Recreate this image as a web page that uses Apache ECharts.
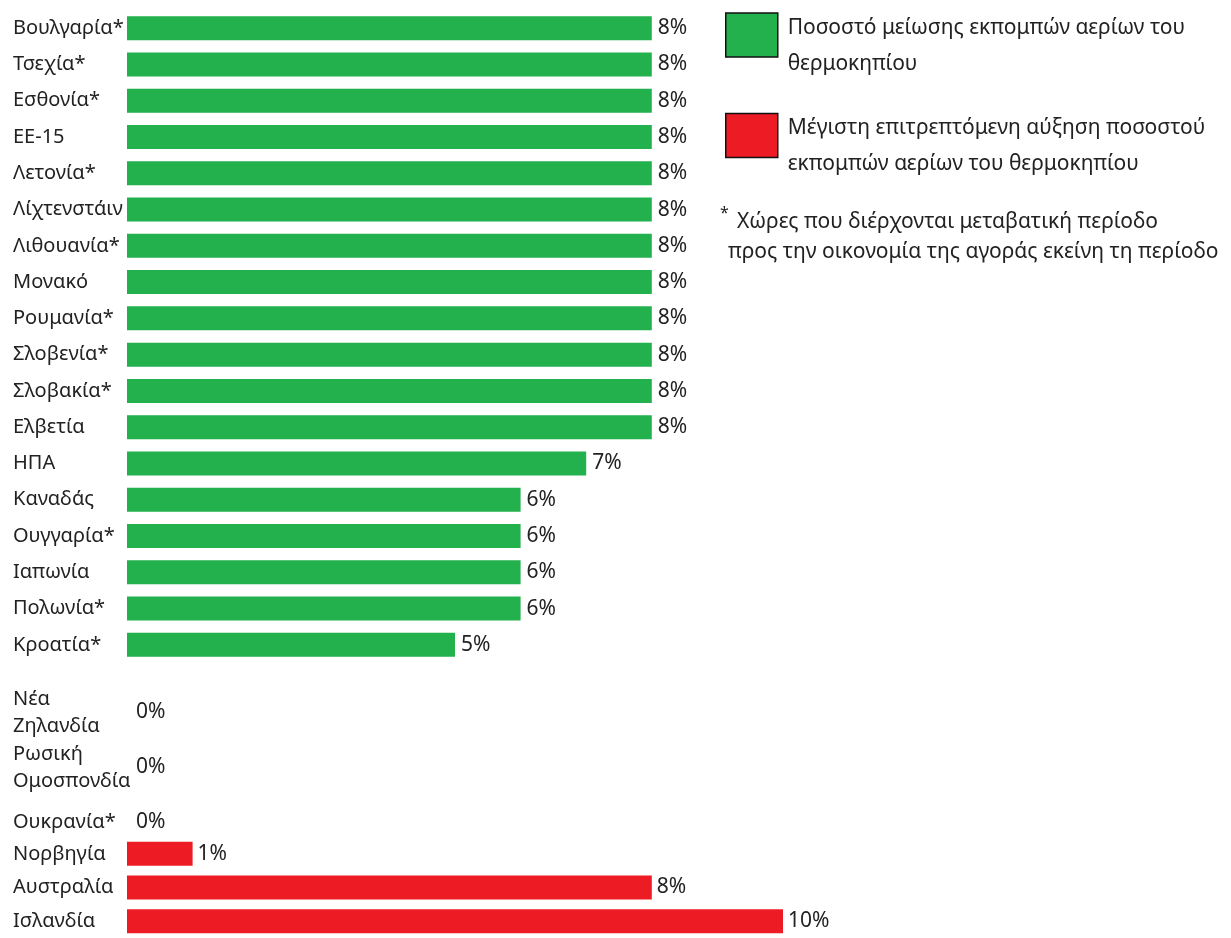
<!DOCTYPE html>
<html><head><meta charset="utf-8">
<script src="https://cdn.jsdelivr.net/npm/echarts@6/dist/echarts.min.js"></script>
<style>html,body{margin:0;padding:0;background:#fff}#c{width:1231px;height:938px}</style>
</head><body><div id="c"></div>
<script>
// ---- data ----
const reductionCountries = ['Βουλγαρία*','Τσεχία*','Εσθονία*','ΕΕ-15','Λετονία*','Λίχτενστάιν','Λιθουανία*','Μονακό','Ρουμανία*','Σλοβενία*','Σλοβακία*','Ελβετία','ΗΠΑ','Καναδάς','Ουγγαρία*','Ιαπωνία','Πολωνία*','Κροατία*'];
const reductionValues = [8,8,8,8,8,8,8,8,8,8,8,8,7,6,6,6,6,5];
const zeroCountries = ['Νέα\nΖηλανδία','Ρωσική\nΟμοσπονδία','Ουκρανία*'];
const zeroValues = [0,0,0];
const increaseCountries = ['Νορβηγία','Αυστραλία','Ισλανδία'];
const increaseValues = [1,8,10];
const seriesNames = ['Ποσοστό μείωσης εκπομπών αερίων του θερμοκηπίου','Μέγιστη επιτρεπτόμενη αύξηση ποσοστού εκπομπών αερίων του θερμοκηπίου'];
const legendLines = [['Ποσοστό μείωσης εκπομπών αερίων του','θερμοκηπίου'],['Μέγιστη επιτρεπτόμενη αύξηση ποσοστού','εκπομπών αερίων του θερμοκηπίου']];
const footnoteLines = ['Χώρες που διέρχονται μεταβατική περίοδο','προς την οικονομία της αγοράς εκείνη τη περίοδο'];

// ---- style ----
const FONT = 'Noto Sans';
const TXT = '#222';
const GREEN = '#22B14C';
const RED = '#ED1C24';
const FS = 21;
const CAT_FS = 20;
const valueMax = 10;

const chart = echarts.init(document.getElementById('c'));

function yAx(i, data) {
  return {
    type: 'category', gridIndex: i, inverse: true, data: data,
    axisLine: {show: false}, axisTick: {show: false}, splitLine: {show: false},
    axisLabel: {align: 'left', margin: 114, fontSize: CAT_FS, color: TXT, fontFamily: FONT, lineHeight: 27}
  };
}
function xAx(i) {
  return {type: 'value', gridIndex: i, min: 0, max: valueMax, show: false};
}
function barSeries(name, i, data, color, dist) {
  return {
    name: name, type: 'bar', xAxisIndex: i, yAxisIndex: i, data: data,
    barWidth: 24, itemStyle: {color: color},
    label: {show: true, position: 'right', distance: dist, formatter: '{c}%', fontSize: FS, color: TXT, fontFamily: FONT},
    emphasis: {disabled: true}
  };
}

chart.setOption({
  animation: false,
  backgroundColor: '#fff',
  textStyle: {fontFamily: FONT},
  grid: [
    {left: 127, width: 656, top: 10, height: 653},
    {left: 127, width: 656, top: 685, height: 165},
    {left: 127, width: 656, top: 837, height: 105}
  ],
  xAxis: [xAx(0), xAx(1), xAx(2)],
  yAxis: [yAx(0, reductionCountries), yAx(1, zeroCountries), yAx(2, increaseCountries)],
  legend: {
    left: 725, top: -12, orient: 'vertical', icon: 'rect', padding: 0,
    itemWidth: 52, itemHeight: 44, itemGap: 14, selectedMode: false,
    data: seriesNames,
    itemStyle: {borderColor: '#111', borderWidth: 1.5},
    formatter: function (n) {
      const l = legendLines[seriesNames.indexOf(n)];
      return '{gap|}\n{t|' + l[0] + '}\n{t|' + l[1] + '}';
    },
    textStyle: {
      fontSize: FS, color: TXT, fontFamily: FONT, padding: [0, 0, 0, 5],
      rich: {
        gap: {height: 22, lineHeight: 22, fontSize: 10},
        t: {fontSize: FS, color: TXT, fontFamily: FONT, lineHeight: 36}
      }
    }
  },
  title: [
    {text: '*', left: 720, top: 205, padding: 0, textStyle: {fontSize: 16, fontWeight: 'normal', color: TXT, fontFamily: FONT}},
    {text: footnoteLines[0], left: 737, top: 208, padding: 0, textStyle: {fontSize: FS, fontWeight: 'normal', color: TXT, fontFamily: FONT, lineHeight: 28}},
    {text: footnoteLines[1], left: 728, top: 238, padding: 0, textStyle: {fontSize: FS, fontWeight: 'normal', color: TXT, fontFamily: FONT, lineHeight: 28}}
  ],
  series: [
    barSeries(seriesNames[0], 0, reductionValues, GREEN, 6),
    barSeries(seriesNames[0], 1, zeroValues, GREEN, 9),
    barSeries(seriesNames[1], 2, increaseValues, RED, 5)
  ]
});
</script></body></html>
